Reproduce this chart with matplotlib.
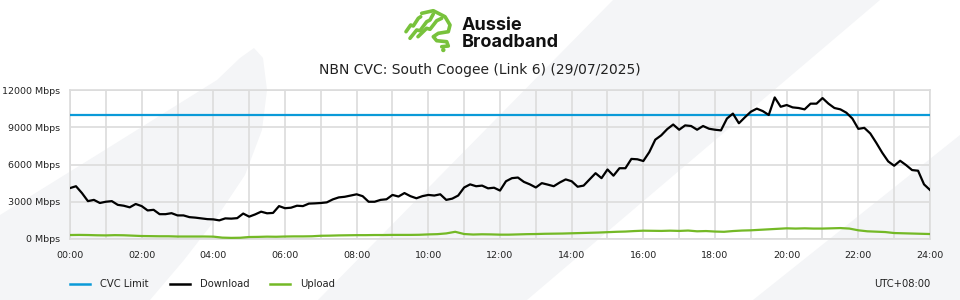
import numpy as np
import matplotlib
matplotlib.use("Agg")
import matplotlib.pyplot as plt
from matplotlib.patches import Polygon, Circle

# ---- data (Mbps) ----
cvc_limit = 10000

# download, 10 minute samples from 00:00 to 24:00
download = [
    4100, 4250, 3700, 3050, 3150, 2900,
    3000, 3050, 2750, 2680, 2550, 2820,
    2650, 2300, 2350, 2000, 2000, 2080,
    1900, 1900, 1760, 1720, 1660, 1600,
    1580, 1500, 1660, 1640, 1680, 2050,
    1800, 1980, 2200, 2070, 2100, 2650,
    2480, 2520, 2680, 2650, 2850, 2870,
    2900, 2950, 3190, 3350, 3400, 3500,
    3600, 3450, 3000, 3000, 3150, 3200,
    3550, 3420, 3700, 3450, 3280, 3450,
    3550, 3500, 3600, 3150, 3250, 3500,
    4150, 4400, 4250, 4300, 4080, 4130,
    3900, 4650, 4900, 4950, 4600, 4400,
    4150, 4500, 4380, 4250, 4550, 4800,
    4650, 4210, 4300, 4800, 5300, 4900,
    5600, 5100, 5700, 5700, 6450, 6420,
    6280, 7000, 8000, 8350, 8850, 9220,
    8800, 9150, 9100, 8800, 9100, 8880,
    8800, 8750, 9700, 10100, 9320, 9800,
    10250, 10500, 10300, 9990, 11400, 10650,
    10790, 10600, 10550, 10440, 10900, 10900,
    11350, 10900, 10550, 10440, 10170, 9700,
    8870, 8950, 8500, 7750, 6950, 6250,
    5900, 6300, 5950, 5550, 5500, 4400,
    3950,
]

# upload, 15 minute samples from 00:00 to 24:00
upload = [
    320, 330, 320, 300,
    290, 310, 300, 270,
    240, 230, 220, 220,
    200, 200, 200, 200,
    190, 110, 90, 100,
    160, 170, 190, 180,
    200, 210, 210, 220,
    260, 270, 290, 300,
    310, 310, 320, 320,
    330, 330, 330, 340,
    370, 390, 450, 580,
    400, 360, 380, 370,
    350, 350, 370, 390,
    400, 420, 430, 440,
    460, 480, 500, 520,
    550, 580, 600, 640,
    670, 660, 650, 670,
    650, 680, 620, 640,
    600, 580, 640, 680,
    700, 740, 780, 820,
    860, 840, 860, 840,
    840, 860, 880, 840,
    700, 620, 590, 560,
    480, 460, 440, 420,
    400,
]

y_ticks = [0, 3000, 6000, 9000, 12000]
x_labels = ["00:00", "02:00", "04:00", "06:00", "08:00", "10:00", "12:00",
            "14:00", "16:00", "18:00", "20:00", "22:00", "24:00"]
title = "NBN CVC: South Coogee (Link 6) (29/07/2025)"
legend_labels = ["CVC Limit", "Download", "Upload"]

BLUE = "#0a9ad8"
GREEN = "#74b926"
GRAY_BG = "#f4f5f7"
GRID = "#dcdcdc"

W, H = 960, 300
fig = plt.figure(figsize=(W / 100, H / 100), dpi=100)
fig.patch.set_facecolor("white")

# background axes in pixel coords (y down) for the decoration
bg = fig.add_axes([0, 0, 1, 1], zorder=-5)
bg.set_xlim(0, W)
bg.set_ylim(H, 0)
bg.axis("off")


def shape(points):
    bg.add_patch(Polygon(points, closed=True, facecolor=GRAY_BG, edgecolor="none"))


shape([(0, 300), (0, 215), (100, 153), (217, 80), (240, 58), (254, 48),
       (263, 58), (267, 90), (262, 130), (245, 175), (215, 220), (184, 260), (150, 300)])
shape([(318, 300), (613, 0), (880, 0), (527, 300)])
shape([(753, 300), (960, 135), (960, 300)])

# logo
strokes = [
    [(406, 31.7), (410.7, 25), (413.3, 26), (418.3, 18.3), (420.7, 16.7)],
    [(410, 38.3), (416.7, 30), (420, 30.7), (426.7, 21.7), (430, 20), (433.3, 14)],
    [(418, 36.7), (426.7, 28.3), (430, 29.3), (436.7, 20.7), (441.7, 18.3)],
    [(421.7, 13.3), (433.3, 10.7), (445, 16.7), (450, 25), (448.3, 31.7),
     (438.3, 33.3), (433.3, 36.7), (436.7, 40.7), (446.7, 41.7), (448.3, 46), (441.7, 46.7)],
]
for s in strokes:
    xs, ys = zip(*s)
    bg.plot(xs, ys, color="#78c23c", lw=2.6, solid_capstyle="round",
            solid_joinstyle="round")
bg.add_patch(Circle((443.3, 50), 2.2, facecolor="#78c23c", edgecolor="none"))
bg.text(462, 34, "Aussie\nBroadband", fontsize=13, fontweight="bold",
        family="Inter", color="#111111", ha="left", va="center", linespacing=0.95)

bg.text(480, 70, title, fontsize=10, ha="center", va="center", color="#222222")

# chart
ax = fig.add_axes([70 / W, 1 - 239 / H, 860 / W, 149 / H])
ax.set_facecolor("none")

t_down = np.linspace(0, 24, len(download))
t_up = np.linspace(0, 24, len(upload))

ax.axhline(cvc_limit, color=BLUE, lw=1.6, zorder=3)
ax.plot(t_up, upload, color=GREEN, lw=1.6, zorder=3)
ax.plot(t_down, download, color="black", lw=1.6, zorder=4)

ax.set_xlim(0, 24)
ax.set_ylim(0, 12000)
ax.set_xticks(np.arange(0, 25, 2))
ax.set_xticklabels(x_labels)
ax.set_xticks(np.arange(0, 25, 1), minor=True)
ax.set_yticks(y_ticks)
ax.set_yticklabels([f"{v} Mbps" for v in y_ticks])
ax.tick_params(axis="both", which="both", length=0, labelsize=6.8, colors="#222222")
ax.tick_params(axis="y", pad=7)
ax.tick_params(axis="x", pad=9)
ax.grid(which="both", color=GRID, lw=1.2, zorder=1)
ax.set_axisbelow(True)
for sp in ax.spines.values():
    sp.set_color(GRID)
    sp.set_linewidth(1.2)

# legend
leg_colors = [BLUE, "black", GREEN]
leg_x = [70, 170, 270]
for x0, c, lab in zip(leg_x, leg_colors, legend_labels):
    bg.plot([x0, x0 + 20], [284, 284], color=c, lw=1.8)
    bg.text(x0 + 30, 284, lab, fontsize=7.2, va="center", ha="left", color="#222222")
bg.text(930, 284, "UTC+08:00", fontsize=7.2, va="center", ha="right", color="#222222")

fig.savefig("out.png", dpi=100)
